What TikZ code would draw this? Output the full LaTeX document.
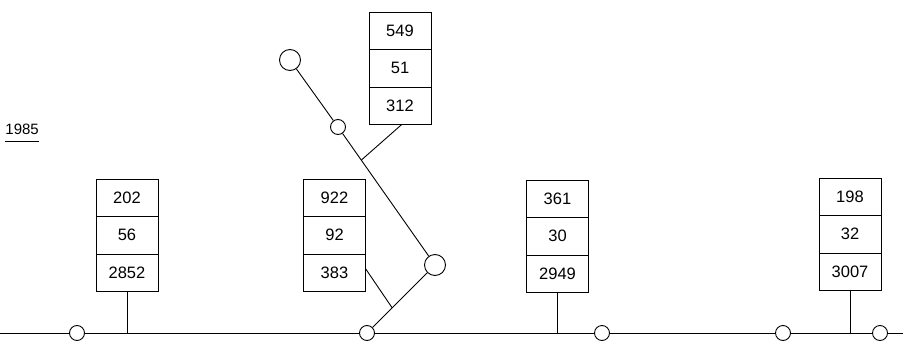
\documentclass[tikz,border=0pt]{standalone}
\usepackage{fontspec}
\setmainfont{Liberation Sans}
\usetikzlibrary{positioning,calc}

\begin{document}
\begin{tikzpicture}[x=1pt, y=-1pt, line width=0.9pt, cell/.style={draw, outer sep=0pt, inner sep=0pt, minimum width=62pt, minimum height=37.3pt, font=\fontsize{16.5}{19}\selectfont}, stop/.style={circle, draw, fill=white, inner sep=0pt, minimum size=15pt}, bigstop/.style={stop, minimum size=21pt}]
\useasboundingbox (0,0) rectangle (910,345);
\node[font=\fontsize{15}{17}\selectfont, inner sep=0pt, anchor=base west] (year) at (5,134.5) {1985};
\draw[line width=1.1pt] ([yshift=-7pt]year.base west)--([yshift=-7pt]year.base east);
% main line
\coordinate (west) at (0,333); \coordinate (east) at (903,333);
\draw (west)--(east);
\node[stop] (n1) at (77,333) {}; \node[stop] (n2) at (367,333) {}; \node[stop] (n3) at (602,333) {};
\node[stop] (n4) at (783,333) {}; \node[stop] (n5) at (880,333) {};
% branch
\node[bigstop] (g1) at (435,265) {}; \node[stop] (m1) at (338,127) {}; \node[bigstop] (g2) at (290,60) {};
\draw (n2)--(g1); \draw (g1)--(m1); \draw (m1)--(g2);
\coordinate (j1) at ($(n2)!0.37!(g1)$); \coordinate (j2) at ($(g1)!0.76!(m1)$);
% value stacks
\node[cell] (a1) at (127,198) {202}; \node[cell,below=0pt of a1] (a2) {56}; \node[cell,below=0pt of a2] (a3) {2852};
\node[cell] (b1) at (334.5,198) {922}; \node[cell,below=0pt of b1] (b2) {92}; \node[cell,below=0pt of b2] (b3) {383};
\node[cell] (c1) at (400,31) {549}; \node[cell,below=0pt of c1] (c2) {51}; \node[cell,below=0pt of c2] (c3) {312};
\node[cell] (d1) at (557.5,199) {361}; \node[cell,below=0pt of d1] (d2) {30}; \node[cell,below=0pt of d2] (d3) {2949};
\node[cell] (e1) at (850,197) {198}; \node[cell,below=0pt of e1] (e2) {32}; \node[cell,below=0pt of e2] (e3) {3007};
% stems
\draw (a3.south)--(a3.south |- west); \draw (d3.south)--(d3.south |- west); \draw (e3.south)--(e3.south |- west);
\draw ([yshift=4pt]b3.east)--(j1); \draw ([xshift=2pt]c3.south)--(j2);
\end{tikzpicture}
\end{document}
